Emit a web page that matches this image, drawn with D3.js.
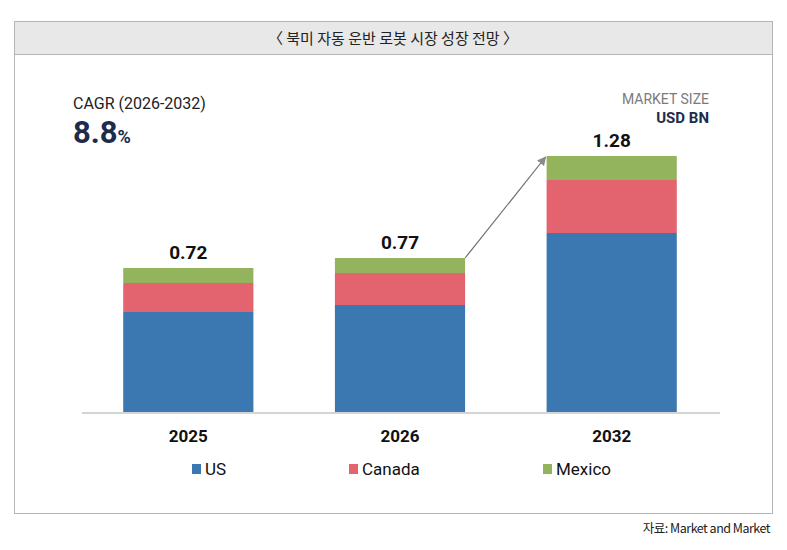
<!DOCTYPE html>
<html>
<head>
<meta charset="utf-8">
<script src="https://cdn.jsdelivr.net/npm/d3@7"></script>
<style>
  body { margin: 0; background: #fff; }
  text { font-family: Roboto, "Noto Sans CJK KR", sans-serif; }
</style>
</head>
<body>
<svg id="chart" width="787" height="550"></svg>
<script>
// chart data
var years = ['2025', '2026', '2032'];
var regions = ['US', 'Canada', 'Mexico'];
var usValues = [0.50, 0.535, 0.895];
var canadaValues = [0.145, 0.16, 0.265];
var mexicoValues = [0.075, 0.075, 0.12];
var totalLabels = ['0.72', '0.77', '1.28'];
var regionColors = ['#3b78b1', '#e3636e', '#93b35c'];

var svg = d3.select('#chart');

/** frame and title band **/
svg.append('rect')
  .attr('x', 14.5).attr('y', 21.5).attr('width', 758).attr('height', 492)
  .attr('fill', '#fff').attr('stroke', '#b5b5b5');
svg.append('rect')
  .attr('x', 14.5).attr('y', 21.5).attr('width', 758).attr('height', 33)
  .attr('fill', '#e8e8e8').attr('stroke', '#b5b5b5');
svg.append('text')
  .attr('x', 393).attr('y', 43.5)
  .attr('text-anchor', 'middle')
  .style('font-family', '"Noto Sans CJK KR", sans-serif')
  .style('font-size', '15px').attr('fill', '#222')
  .text('〈 북미 자동 운반 로봇 시장 성장 전망 〉');

// source line under the frame
svg.append('text')
  .attr('x', 770).attr('y', 533)
  .attr('text-anchor', 'end')
  .style('font-family', '"Noto Sans CJK KR", sans-serif')
  .style('font-size', '12.5px').style('letter-spacing', '-0.5px').attr('fill', '#222')
  .text('자료: Market and Market');

/** CAGR and unit labels **/
svg.append('text')
  .attr('x', 73).attr('y', 109)
  .style('font-size', '16px').attr('fill', '#222')
  .text('CAGR (2026-2032)');
var cagr = svg.append('text')
  .attr('x', 73).attr('y', 143)
  .attr('fill', '#1d2b4d').style('font-weight', 'bold');
cagr.append('tspan').style('font-size', '31px').text('8.8');
cagr.append('tspan').style('font-size', '18px').text('%');

svg.append('text')
  .attr('x', 709).attr('y', 104)
  .attr('text-anchor', 'end')
  .style('font-size', '14px').attr('fill', '#7a7a7a')
  .text('MARKET SIZE');
svg.append('text')
  .attr('x', 709).attr('y', 123)
  .attr('text-anchor', 'end')
  .style('font-size', '15px').style('font-weight', 'bold').attr('fill', '#1d2b4d')
  .text('USD BN');

/** scales **/
var x = d3.scaleBand()
  .domain(years)
  .range([83, 717])
  .paddingInner(0.385)
  .paddingOuter(0.19);

var y = d3.scaleLinear()
  .domain([0, 1])
  .range([412, 212]);

var color = d3.scaleOrdinal().domain(regions).range(regionColors);

var table = years.map(function(yr, i) {
  return { year: yr, US: usValues[i], Canada: canadaValues[i], Mexico: mexicoValues[i] };
});
var stacked = d3.stack().keys(regions)(table);

/** bars **/
svg.append('g').attr('id', 'bars')
  .selectAll('g')
  .data(stacked)
  .join('g')
  .attr('fill', function(d) { return color(d.key); })
  .selectAll('rect')
  .data(function(d) { return d; })
  .join('rect')
  .attr('x', function(d) { return x(d.data.year); })
  .attr('width', x.bandwidth())
  .attr('y', function(d) { return y(d[1]); })
  .attr('height', function(d) { return y(d[0]) - y(d[1]); });

// baseline
svg.append('line')
  .attr('x1', 82).attr('x2', 720)
  .attr('y1', y(0) + 1).attr('y2', y(0) + 1)
  .attr('stroke', '#d4d4d4').attr('stroke-width', 2);

// totals above bars
var tops = stacked[stacked.length - 1];
svg.append('g')
  .selectAll('text')
  .data(tops)
  .join('text')
  .attr('x', function(d) { return x(d.data.year) + x.bandwidth() / 2; })
  .attr('y', function(d) { return y(d[1]) - 9; })
  .attr('text-anchor', 'middle')
  .style('font-size', '19px').style('font-weight', 'bold').attr('fill', '#111')
  .text(function(d, i) { return totalLabels[i]; });

// year labels
var xAxis = svg.append('g')
  .attr('transform', 'translate(0,' + y(0) + ')')
  .call(d3.axisBottom(x).tickSize(0).tickPadding(18));
xAxis.select('.domain').remove();
xAxis.selectAll('text')
  .style('font-family', 'Roboto, sans-serif')
  .style('font-size', '17px').style('font-weight', 'bold').attr('fill', '#111');

/** growth arrow from 2026 to 2032 **/
svg.append('defs').append('marker')
  .attr('id', 'arrowhead')
  .attr('viewBox', '0 0 10 10')
  .attr('refX', 9).attr('refY', 5)
  .attr('markerWidth', 9).attr('markerHeight', 9)
  .attr('markerUnits', 'userSpaceOnUse')
  .attr('orient', 'auto')
  .append('path')
  .attr('d', 'M0,0 L10,5 L0,10 Z')
  .attr('fill', '#8a8a8a');

svg.append('line')
  .attr('x1', x('2026') + x.bandwidth()).attr('y1', y(tops[1][1]))
  .attr('x2', x('2032') - 1).attr('y2', y(tops[2][1]) + 1)
  .attr('stroke', '#6e6e6e').attr('stroke-width', 1.2)
  .attr('marker-end', 'url(#arrowhead)');

/** legend **/
var legendX = [192, 349, 543];
var legend = svg.append('g')
  .selectAll('g')
  .data(regions)
  .join('g')
  .attr('transform', function(d, i) { return 'translate(' + legendX[i] + ',469)'; });
legend.append('rect')
  .attr('x', 0).attr('y', -5).attr('width', 9).attr('height', 10)
  .attr('fill', function(d) { return color(d); });
legend.append('text')
  .attr('x', 13).attr('y', 6)
  .style('font-size', '17px').attr('fill', '#111')
  .text(function(d) { return d; });
</script>
</body>
</html>
